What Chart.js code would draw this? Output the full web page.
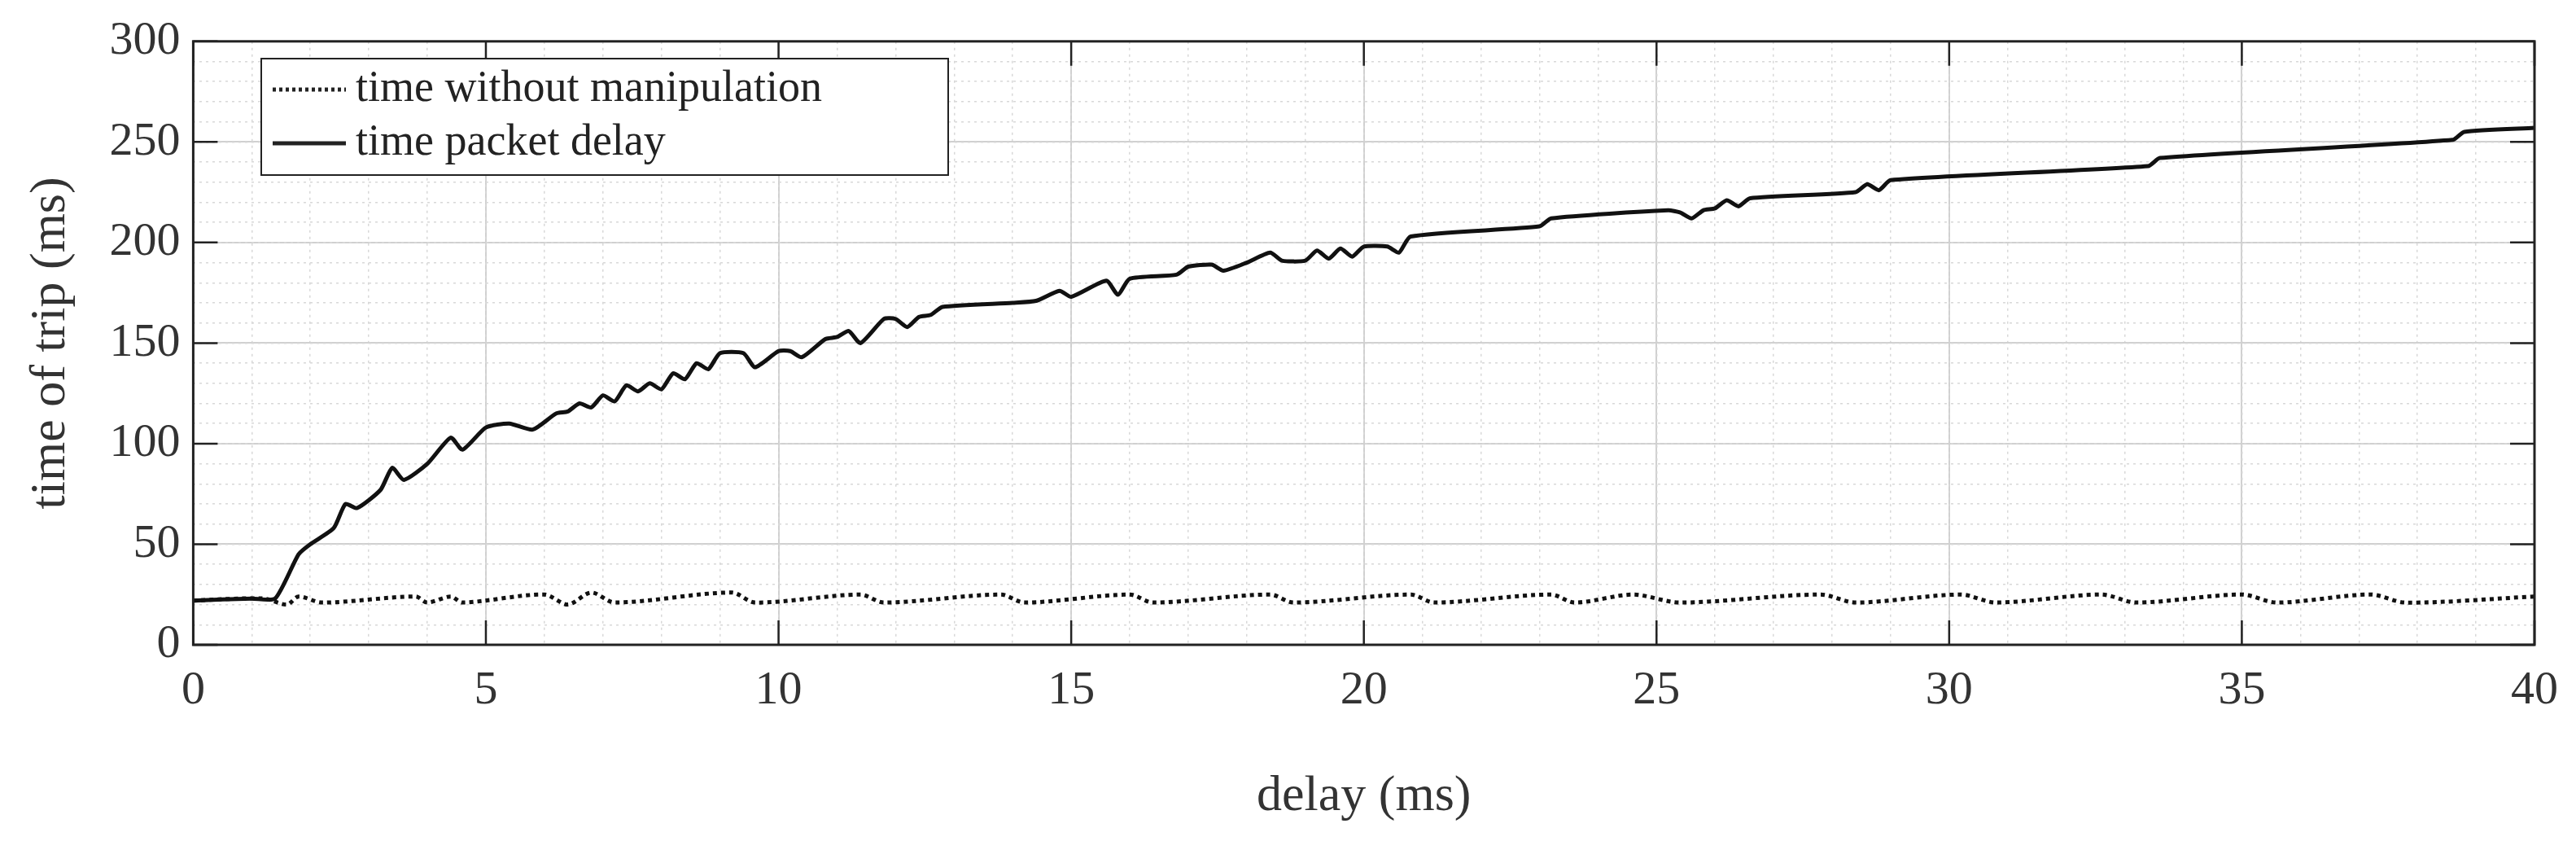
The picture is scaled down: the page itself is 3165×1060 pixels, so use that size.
<!DOCTYPE html>
<html>
<head>
<meta charset="utf-8">
<script src="https://cdn.jsdelivr.net/npm/chart.js@4"></script>
<style>
  html, body { margin: 0; padding: 0; background: #fff; }
  #wrap { width: 3165px; height: 1060px; }
</style>
</head>
<body>
<div id="wrap"><canvas id="chartTrip"></canvas></div>
<script>
// ========== Dados ==========
const delayX = [0,1,1.4,1.8,2,2.4,2.6,2.8,3.2,3.4,3.6,4,4.4,4.6,5,5.4,5.8,6.2,6.4,6.6,6.8,7,7.2,7.4,7.6,7.8,8,8.2,8.4,8.6,8.8,9,9.4,9.6,10,10.2,10.4,10.8,11,11.2,11.4,11.8,12,12.2,12.4,12.6,12.8,14,14.4,14.8,15,15.6,15.8,16,16.8,17,17.4,17.6,18,18.4,18.6,19,19.2,19.4,19.6,19.8,20,20.4,20.6,20.8,23,23.2,25.2,25.4,25.6,25.8,26,26.2,26.4,26.6,28.4,28.6,28.8,29,33.4,33.6,38.6,38.8,40];
const delayY = [22,23,23,45,50,58,70,68,77,88,82,90,103,97,108,110,107,115,116,120,118,124,121,129,126,130,127,135,132,140,137,145,145,138,146,146,143,152,153,156,150,162,162,158,163,164,168,170,171,176,173,181,174,182,184,188,189,186,190,195,191,191,196,192,197,193,198,198,195,203,208,212,216,215,212,216,217,221,218,222,225,229,226,231,238,242,251,255,257];

const baseX = [0,1.2,1.6,1.8,2.2,3.8,4.0,4.4,4.6,6.0,6.4,6.8,7.2,9.2,9.6,11.4,11.8,13.8,14.2,16.0,16.4,18.4,18.8,20.8,21.2,23.2,23.6,24.6,25.4,27.8,28.4,30.2,30.8,32.6,33.2,35.0,35.6,37.2,37.8,40];
const baseY = [22,23,20,24,21,24,21,24,21,25,20,26,21,26,21,25,21,25,21,25,21,25,21,25,21,25,21,25,21,25,21,25,21,25,21,25,21,25,21,24];

const xTicks = [0,5,10,15,20,25,30,35,40];
const yTicks = [0,50,100,150,200,250,300];
const seriesNames = ['time without manipulation', 'time packet delay'];

const toXY = (xs, ys) => xs.map((x, i) => ({ x: x, y: ys[i] }));
const serif = "'Liberation Serif', 'DejaVu Serif', serif";

// ========== Moldura + legenda ==========
const frameLegend = {
  id: 'frameLegend',
  afterDraw(chart) {
    const { ctx, chartArea: a } = chart;
    ctx.save();
    ctx.strokeStyle = '#222';
    ctx.lineWidth = 3;
    ctx.strokeRect(a.left, a.top, a.right - a.left, a.bottom - a.top);
    // marcas internas
    const xs = chart.scales.x, ys = chart.scales.y;
    ctx.lineWidth = 2.5;
    xTicks.forEach(v => {
      const px = xs.getPixelForValue(v);
      ctx.beginPath(); ctx.moveTo(px, a.bottom); ctx.lineTo(px, a.bottom - 30);
      ctx.moveTo(px, a.top); ctx.lineTo(px, a.top + 30); ctx.stroke();
    });
    yTicks.forEach(v => {
      const py = ys.getPixelForValue(v);
      ctx.beginPath(); ctx.moveTo(a.left, py); ctx.lineTo(a.left + 30, py);
      ctx.moveTo(a.right, py); ctx.lineTo(a.right - 30, py); ctx.stroke();
    });
    // legenda
    const lx = 321, ly = 72, lw = 844, lh = 143;
    ctx.fillStyle = '#fff';
    ctx.fillRect(lx, ly, lw, lh);
    ctx.lineWidth = 2;
    ctx.strokeRect(lx, ly, lw, lh);
    ctx.font = '54px ' + serif;
    ctx.fillStyle = '#222';
    ctx.textBaseline = 'middle';
    const rows = [ly + 38, ly + 104];
    ctx.lineWidth = 5;
    ctx.setLineDash([4, 4]);
    ctx.beginPath(); ctx.moveTo(335, rows[0]); ctx.lineTo(425, rows[0]); ctx.stroke();
    ctx.setLineDash([]);
    ctx.beginPath(); ctx.moveTo(335, rows[1]); ctx.lineTo(425, rows[1]); ctx.stroke();
    ctx.fillText(seriesNames[0], 437, rows[0]);
    ctx.fillText(seriesNames[1], 437, rows[1]);
    ctx.restore();
  }
};

new Chart(document.getElementById('chartTrip'), {
  type: 'line',
  data: {
    datasets: [
      {
        label: seriesNames[0],
        data: toXY(baseX, baseY),
        borderColor: '#111',
        borderWidth: 5,
        borderDash: [5, 5],
        pointRadius: 0,
        tension: 0.3
      },
      {
        label: seriesNames[1],
        data: toXY(delayX, delayY),
        borderColor: '#111',
        borderWidth: 5,
        pointRadius: 0,
        tension: 0.2
      }
    ]
  },
  options: {
    responsive: true,
    maintainAspectRatio: false,
    animation: false,
    layout: { padding: { top: 37, right: 45, left: 22, bottom: 40 } },
    plugins: { legend: { display: false }, tooltip: { enabled: false } },
    scales: {
      x: {
        type: 'linear', min: 0, max: 40,
        afterBuildTicks: s => { s.ticks = xTicks.map(v => ({ value: v })); },
        grid: { color: '#d0d0d0', lineWidth: 2, drawTicks: false },
        border: { display: false },
        ticks: { color: '#333', font: { family: serif, size: 58 }, padding: 22 },
        title: { display: true, text: 'delay (ms)', color: '#333', font: { family: serif, size: 62 }, padding: { top: 36 } }
      },
      xMinor: {
        type: 'linear', min: 0, max: 40, position: 'bottom', display: true,
        afterBuildTicks: s => { s.ticks = Array.from({ length: 41 }, (_, i) => ({ value: i })); },
        grid: { color: '#d8d8d8', lineWidth: 1.5, drawTicks: false },
        border: { display: false, dash: [3, 5] },
        ticks: { display: false }
      },
      y: {
        type: 'linear', min: 0, max: 300,
        afterBuildTicks: s => { s.ticks = yTicks.map(v => ({ value: v })); },
        grid: { color: '#d0d0d0', lineWidth: 2, drawTicks: false },
        border: { display: false },
        ticks: { color: '#333', font: { family: serif, size: 58 }, padding: 16 },
        title: { display: true, text: 'time of trip (ms)', color: '#333', font: { family: serif, size: 62 }, padding: { bottom: 18 } }
      },
      yMinor: {
        type: 'linear', min: 0, max: 300, position: 'left', display: true,
        afterBuildTicks: s => { s.ticks = Array.from({ length: 31 }, (_, i) => ({ value: i * 10 })); },
        grid: { color: '#d8d8d8', lineWidth: 1.5, drawTicks: false },
        border: { display: false, dash: [3, 5] },
        ticks: { display: false }
      }
    }
  },
  plugins: [frameLegend]
});
</script>
</body>
</html>
